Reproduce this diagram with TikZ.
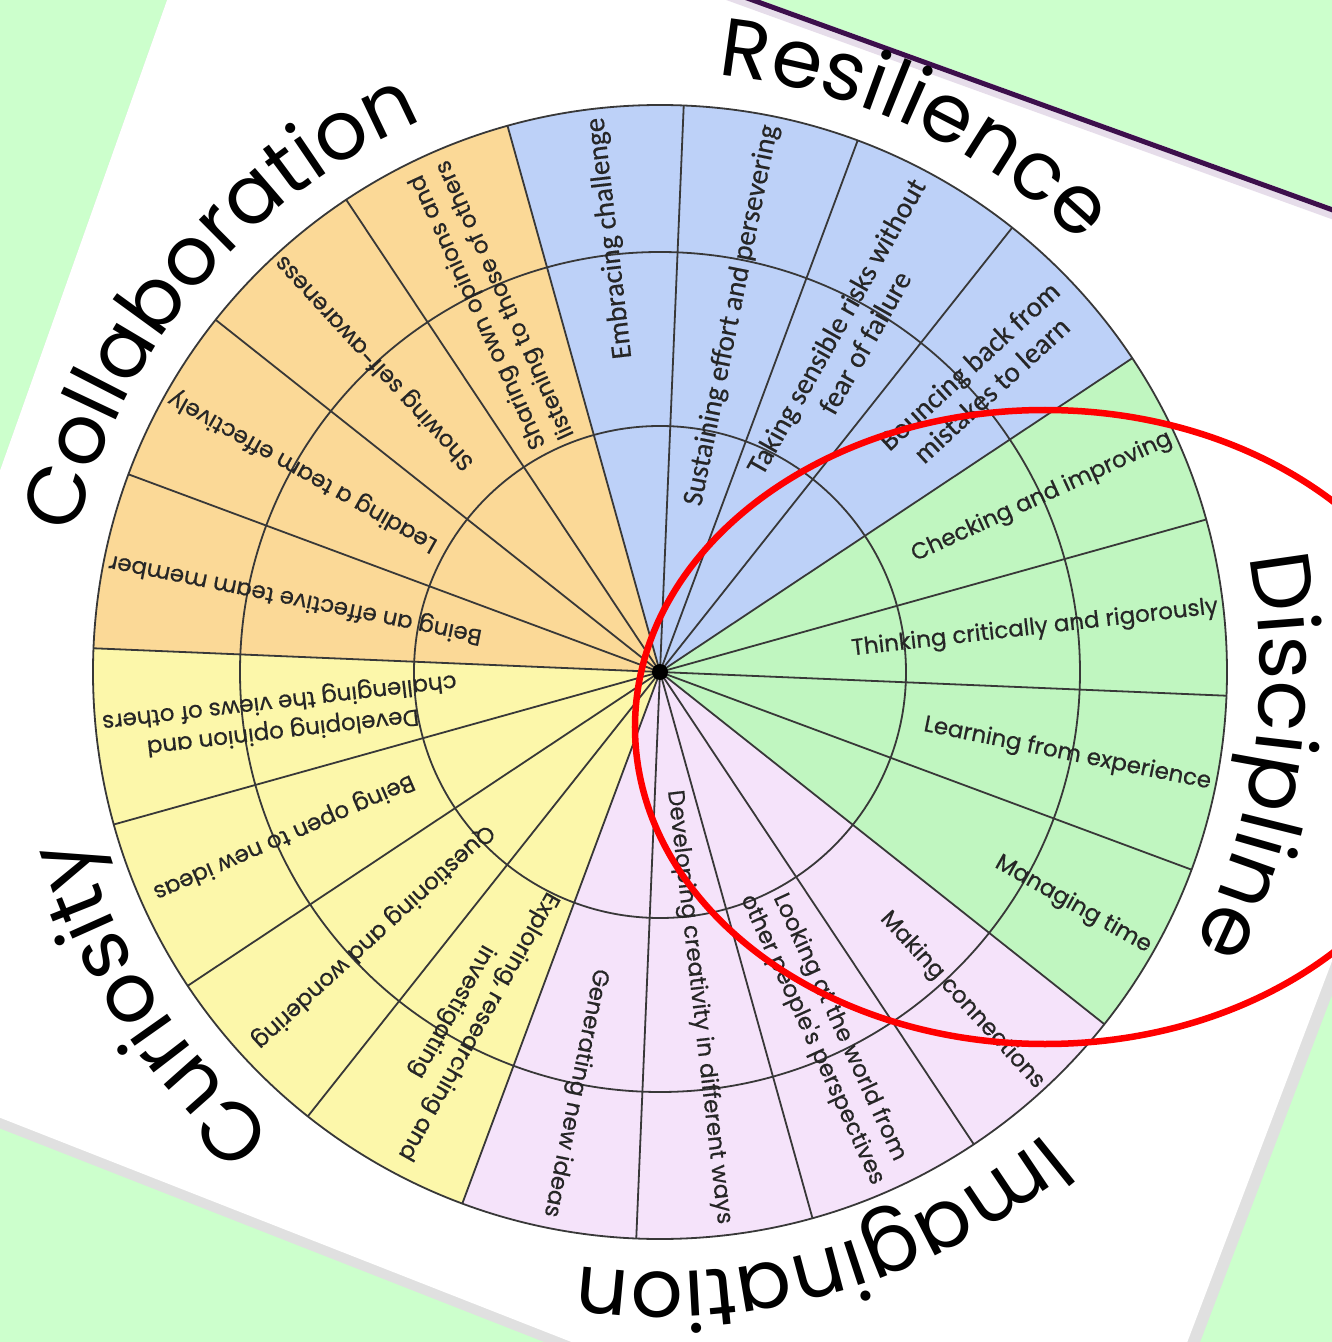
\documentclass[tikz,border=0pt]{standalone}
\usepackage{fontspec}
\usepackage{tikz}
\usetikzlibrary{decorations.text}

\newfontfamily\wheelfont{Poppins}
\newfontfamily\itemfont{Poppins}[FakeBold=0.6]
\newfontfamily\resfont{Carlito}[FakeBold=0.4]

\definecolor{bggreen}{HTML}{CCFFCC}
\definecolor{collab}{HTML}{FBD997}
\definecolor{resil}{HTML}{BDD1F8}
\definecolor{discip}{HTML}{C0F6C0}
\definecolor{imagin}{HTML}{F5E3FA}
\definecolor{curio}{HTML}{FCF7AA}
\definecolor{pageedge}{HTML}{E0E0E0}
\definecolor{pageband}{HTML}{E6DDEA}
\definecolor{slideline}{HTML}{3C0F4B}
\definecolor{spokeline}{HTML}{383838}

\begin{document}
\begin{tikzpicture}

        % Styles
        \tikzstyle{item} = [font=\itemfont\fontsize{23}{30}\selectfont, text=black!85, inner sep=0pt, align=center, anchor=east]
        \tikzstyle{resitem} = [item, font=\resfont\fontsize{29}{33}\selectfont]
        \tikzstyle{spoke} = [draw=spokeline, line width=1.8pt]
        \tikzstyle{heading} = [decorate, decoration={text along path, text align=center}]

        % Frame
        \fill[bggreen] (-660pt,-670pt) rectangle (672pt,672pt);
        \useasboundingbox (-660pt,-670pt) rectangle (672pt,672pt);
        \clip (-660pt,-670pt) rectangle (672pt,672pt);

        % Tilted page
        \coordinate (pTL) at (-425.4pt,862.1pt);
        \coordinate (pTR) at (935.2pt,369.7pt);
        \coordinate (pBR) at (455pt,-894pt);
        \coordinate (pBL) at (-865pt,-376pt);
        \fill[pageedge] (pTL) -- (pTR) -- (pBR) -- (pBL) -- cycle;
        \begin{scope}
            \clip (pTL) -- (pTR) -- (pBR) -- (pBL) -- cycle;
            \fill[white] ([xshift=-7.6pt,yshift=13.7pt]pTL) -- ([xshift=-7.6pt,yshift=13.7pt]pTR)
                -- ([xshift=-7.6pt,yshift=13.7pt]pBR) -- ([xshift=-7.6pt,yshift=13.7pt]pBL) -- cycle;
        \end{scope}
        \draw[pageband, line width=7pt] ([xshift=-2.7pt,yshift=-7.5pt]pTL) -- ([xshift=-2.7pt,yshift=-7.5pt]pTR);
        \draw[slideline, line width=5pt] ([xshift=-0.85pt,yshift=-2.35pt]pTL) -- ([xshift=-0.85pt,yshift=-2.35pt]pTR);

        % Sectors
        \fill[collab] (0,0) -- (105.6:567pt) arc[start angle=105.6, end angle=177.6, radius=567pt] -- cycle;
        \fill[resil] (0,0) -- (33.6:567pt) arc[start angle=33.6, end angle=105.6, radius=567pt] -- cycle;
        \fill[discip] (0,0) -- (-38.4:567pt) arc[start angle=-38.4, end angle=33.6, radius=567pt] -- cycle;
        \fill[imagin] (0,0) -- (-110.4:567pt) arc[start angle=-110.4, end angle=-38.4, radius=567pt] -- cycle;
        \fill[curio] (0,0) -- (177.6:567pt) arc[start angle=177.6, end angle=249.6, radius=567pt] -- cycle;

        % Rings
        \draw[spoke] (0,0) circle[radius=246pt];
        \draw[spoke] (0,0) circle[radius=420pt];
        \draw[spoke] (0,0) circle[radius=567pt];

        % Spokes
        \draw[spoke] (0,0) -- (105.6:567pt) (0,0) -- (87.6:567pt) (0,0) -- (69.6:567pt) (0,0) -- (51.6:567pt);
        \draw[spoke] (0,0) -- (33.6:567pt) (0,0) -- (15.6:567pt) (0,0) -- (-2.4:567pt) (0,0) -- (-20.4:567pt);
        \draw[spoke] (0,0) -- (-38.4:567pt) (0,0) -- (-56.4:567pt) (0,0) -- (-74.4:567pt) (0,0) -- (-92.4:567pt);
        \draw[spoke] (0,0) -- (-110.4:567pt) (0,0) -- (-128.4:567pt) (0,0) -- (-146.4:567pt) (0,0) -- (-164.4:567pt);
        \draw[spoke] (0,0) -- (177.6:567pt) (0,0) -- (159.6:567pt) (0,0) -- (141.6:567pt) (0,0) -- (123.6:567pt);
        \fill[black] (0,0) circle[radius=8pt];

        % Resilience
        \node[resitem, rotate=96.6] (embrace) at (96.6:558pt) {Embracing challenge};
        \node[resitem, rotate=78.6] (sustain) at (78.6:558pt) {Sustaining effort and persevering};
        \node[resitem, rotate=60.6] (risks) at (60.6:555pt) {Taking sensible risks without\\fear of failure};
        \node[resitem, rotate=42.6] (bounce) at (42.6:552pt) {Bouncing back from\\mistakes to learn};

        % Discipline
        \node[item, rotate=24.6] (check) at (24.6:562pt) {Checking and improving};
        \node[item, rotate=6.6] (think) at (6.6:562pt) {Thinking critically and rigorously};
        \node[item, rotate=-11.4] (learn) at (-11.4:562pt) {Learning from experience};
        \node[item, rotate=-29.4] (manage) at (-29.4:562pt) {Managing time};

        % Imagination
        \node[item, rotate=-47.4] (connect) at (-47.4:562pt) {Making connections};
        \node[item, rotate=-65.4] (looking) at (-65.4:556pt) {Looking at the world from\\other people's perspectives};
        \node[item, rotate=-83.4] (creative) at (-83.4:556pt) {Developing creativity in different ways};
        \node[item, rotate=-101.4] (generate) at (-101.4:556pt) {Generating new ideas};

        % Curiosity
        \node[item, rotate=-119.4] (explore) at (-119.4:550pt) {Exploring, researching and\\investigating};
        \node[item, rotate=-137.4] (question) at (-137.4:550pt) {Questioning and wondering};
        \node[item, rotate=-156.4] (openideas) at (-156.4:552pt) {Being open to new ideas};
        \node[item, rotate=-173.4] (opinion) at (-173.4:560pt) {Developing opinion and\\challenging the views of others};

        % Collaboration
        \node[item, rotate=168.6] (member) at (168.6:562pt) {Being an effective team member};
        \node[item, rotate=150.6] (leading) at (150.6:562pt) {Leading a team effectively};
        \node[item, rotate=132.6] (selfaware) at (132.6:562pt) {Showing self-awareness};
        \node[item, rotate=114.6] (sharing) at (114.6:555pt) {Sharing own opinions and\\listening to those of others};

        % Headings
        \path[heading, decoration={text={|\wheelfont\fontsize{82}{90}\selectfont|Collaboration}}]
            (200:600pt) arc[start angle=200, end angle=80, radius=600pt];
        \path[heading, decoration={text={|\wheelfont\fontsize{82}{90}\selectfont|Resilience}}]
            (125:600pt) arc[start angle=125, end angle=5, radius=600pt];
        \path[heading, decoration={text={|\wheelfont\fontsize{84}{90}\selectfont|Discipline}}]
            (52:600pt) arc[start angle=52, end angle=-68, radius=600pt];
        \path[heading, decoration={text={|\wheelfont\fontsize{82}{90}\selectfont|Imagination}}]
            (-14:600pt) arc[start angle=-14, end angle=-134, radius=600pt];
        \path[heading, decoration={text={|\wheelfont\fontsize{82}{90}\selectfont|Curiosity}}]
            (273:600pt) arc[start angle=273, end angle=153, radius=600pt];

        % Highlight
        \coordinate (focus) at (385pt,-55pt);
        \draw[red, line width=6.5pt] (focus) ellipse[x radius=410pt, y radius=317pt];

    \end{tikzpicture}
\end{document}
